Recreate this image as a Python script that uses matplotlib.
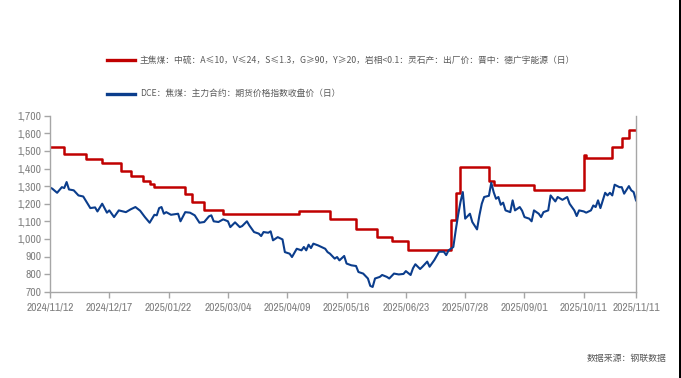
import matplotlib
matplotlib.use('Agg')
import matplotlib.pyplot as plt
from matplotlib.lines import Line2D
from matplotlib.patches import Rectangle
from matplotlib.ticker import FuncFormatter
from matplotlib import font_manager as fm

# ---------------- data ----------------
tick_labels = ['2024/11/12', '2024/12/17', '2025/01/22', '2025/03/04', '2025/04/09',
               '2025/05/16', '2025/06/23', '2025/07/28', '2025/09/01', '2025/10/11',
               '2025/11/11']
tick_idx = [0, 25, 50, 75, 100, 125, 150, 175, 200, 225, 247]

# red series: trading-day index where the price changes, and the new price
red_idx = [0, 6, 15, 22, 30, 34, 39, 42, 44, 57, 60, 65, 73, 105, 118, 129, 138,
           144, 151, 169, 171, 173, 185, 187, 204, 225, 226, 237, 241, 244, 247]
red_val = [1525, 1483, 1455, 1433, 1386, 1357, 1327, 1312, 1293, 1255, 1208, 1164,
           1140, 1160, 1111, 1058, 1009, 988, 937, 1107, 1259, 1407, 1331, 1306,
           1278, 1477, 1458, 1524, 1575, 1619, 1619]

blue_idx = [0, 1, 3, 5, 6, 7, 8, 10, 12, 14, 15, 17, 19, 20, 22, 24, 25, 27, 29, 32,
            34, 36, 38, 40, 42, 44, 45, 46, 47, 48, 49, 51, 54, 55, 57, 59, 61, 63,
            65, 67, 68, 69, 71, 73, 75, 76, 78, 80, 81, 83, 84, 86, 88, 89, 90, 92,
            93, 94, 96, 98, 99, 101, 102, 104, 106, 107, 108, 109, 110, 111, 113, 116,
            117, 118, 120, 121, 122, 124, 125, 127, 129, 130, 132, 134, 135, 136, 137,
            139, 140, 142, 143, 145, 147, 149, 150, 152, 153, 154, 156, 157, 159, 160,
            162, 164, 166, 167, 168, 170, 171, 172, 173, 174, 175, 177, 178, 180, 181,
            182, 183, 185, 186, 187, 188, 189, 190, 191, 192, 194, 195, 196, 198, 199,
            200, 202, 203, 204, 206, 207, 208, 210, 211, 213, 214, 216, 218, 219, 221,
            222, 223, 225, 226, 228, 229, 230, 231, 232, 234, 235, 236, 237, 238, 240,
            241, 242, 244, 245, 246, 247]
blue_val = [1292, 1285, 1262, 1294, 1289, 1323, 1281, 1276, 1247, 1241, 1219, 1175,
            1179, 1156, 1200, 1149, 1162, 1124, 1162, 1152, 1168, 1181, 1160, 1124,
            1092, 1137, 1134, 1175, 1181, 1143, 1152, 1137, 1143, 1100, 1152, 1149,
            1134, 1092, 1096, 1128, 1134, 1100, 1096, 1111, 1100, 1067, 1094, 1067,
            1073, 1100, 1077, 1039, 1030, 1016, 1039, 1035, 1043, 992, 1010, 997, 925,
            916, 897, 944, 935, 954, 935, 967, 948, 973, 963, 944, 925, 916, 888, 897,
            878, 903, 860, 850, 846, 812, 803, 775, 733, 727, 775, 784, 795, 784, 775,
            803, 798, 801, 817, 795, 833, 856, 829, 842, 871, 842, 880, 927, 927, 908,
            935, 954, 1048, 1134, 1209, 1266, 1115, 1143, 1096, 1054, 1134, 1200, 1238,
            1245, 1319, 1266, 1228, 1238, 1194, 1206, 1162, 1152, 1219, 1162, 1181,
            1160, 1124, 1115, 1100, 1162, 1143, 1124, 1152, 1162, 1247, 1213, 1238,
            1222, 1238, 1200, 1162, 1130, 1162, 1156, 1149, 1162, 1190, 1181, 1219,
            1175, 1262, 1247, 1262, 1247, 1308, 1294, 1294, 1257, 1300, 1276, 1266,
            1219]

label_red = '主焦煤：中硫：A≤10，V≤24，S≤1.3，G≥90，Y≥20，岩相<0.1：灵石产：出厂价：晋中：德广宇能源（日）'
label_blue = 'DCE：焦煤：主力合约：期货价格指数收盘价（日）'
source = '数据来源：钢联数据'

# ---------------- style ----------------
RED = '#C00000'
BLUE = '#0B3D8C'
GRAY = '#A6A6A6'
TXT = '#7F7F7F'
cjk = ['Noto Sans CJK SC', 'DejaVu Sans']

# pick a condensed face for the tick labels if one is installed
cond_path = None
for f in fm.fontManager.ttflist:
    n = f.fname.lower()
    if 'narrow' in n or 'condensed' in n:
        if 'bold' in n or 'oblique' in n or 'italic' in n:
            continue
        if cond_path is None or 'narrow' in n:
            cond_path = f.fname
tick_fp = fm.FontProperties(fname=cond_path, size=9.0) if cond_path else fm.FontProperties(family='DejaVu Sans', size=6.4)

W, H = 681, 378
fig = plt.figure(figsize=(W / 100, H / 100), dpi=100)
fig.patch.set_facecolor('white')
ax = fig.add_axes([50 / W, 1 - 291.7 / H, (636 - 50) / W, (291.7 - 115.7) / H])

ax.step(red_idx, red_val, where='post', color=RED, lw=1.8)
ax.plot(blue_idx, blue_val, color=BLUE, lw=1.5)

ax.set_xlim(0, 247)
ax.set_ylim(700, 1700)
ax.set_yticks(range(700, 1701, 100))
ax.yaxis.set_major_formatter(FuncFormatter(lambda v, p: f'{int(v):,}'))
ax.set_xticks(tick_idx)
ax.set_xticklabels(tick_labels)

for s in ['left', 'bottom', 'right']:
    ax.spines[s].set_color(GRAY)
    ax.spines[s].set_linewidth(1.0)
ax.spines['top'].set_visible(False)
ax.tick_params(axis='both', direction='out', length=4, width=1.0, color=GRAY,
               labelcolor=TXT)
ax.tick_params(axis='x', pad=4)
ax.tick_params(axis='y', pad=2)
for lab in ax.get_xticklabels() + ax.get_yticklabels():
    lab.set_fontproperties(tick_fp)

# legend (manual, stacked)
y1 = 1 - 60 / H
y2 = 1 - 93.5 / H
fig.add_artist(Line2D([107 / W, 135 / W], [y1, y1], color=RED, lw=2.4))
fig.add_artist(Line2D([107 / W, 135 / W], [y2, y2], color=BLUE, lw=2.4))
fig.text(140 / W, y1, label_red, va='center', ha='left', fontsize=6.3, color='#595959', family=cjk)
fig.text(140 / W, y2, label_blue, va='center', ha='left', fontsize=6.3, color='#595959', family=cjk)

fig.text(666 / W, 1 - 358 / H, source, va='center', ha='right', fontsize=6.4, color='#595959', family=cjk)

# dark right border of the picture
fig.add_artist(Rectangle((679 / W, 0), 2 / W, 1, transform=fig.transFigure,
                         facecolor='black', edgecolor='none'))

fig.savefig('out.png', dpi=100)
